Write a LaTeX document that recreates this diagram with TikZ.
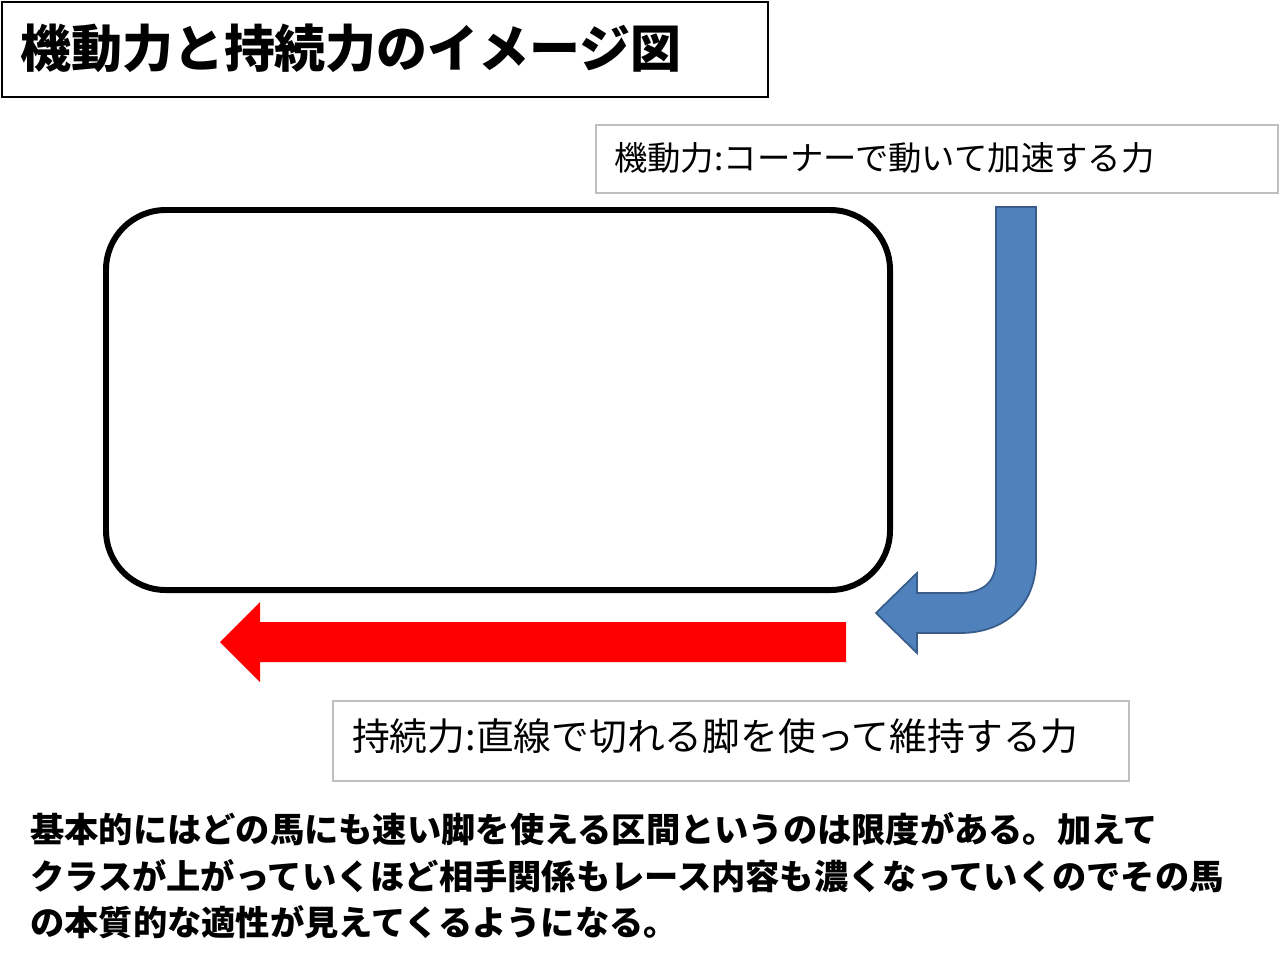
\documentclass[tikz,border=0pt]{standalone}
\usepackage{fontspec}
\newfontfamily\jp{Noto Sans CJK JP}
\definecolor{bluef}{HTML}{4F81BD}
\definecolor{blued}{HTML}{385D8A}
\definecolor{boxg}{HTML}{BFBFBF}
\begin{document}
\begin{tikzpicture}[x=0.02cm,y=-0.02cm,
  lbl/.style={draw=boxg,line width=1pt,anchor=north west,inner sep=0pt},
  every node/.style={font=\jp}]
\useasboundingbox (0,0) rectangle (1280,958);
\fill[white] (0,0) rectangle (1280,958);
% title
\draw[black,line width=1pt] (2,2) rectangle (768,97);
\node[anchor=west,font=\jp\bfseries\fontsize{29}{34}\selectfont] (title) at (14,48) {機動力と持続力のイメージ図};
% labels
\draw[boxg,line width=1pt] (596,125) rectangle (1278,193);
\node[anchor=west,font=\jp\fontsize{19}{23}\selectfont] (l1) at (608,158) {機動力:コーナーで動いて加速する力};
\draw[boxg,line width=1pt] (333,701) rectangle (1129,781);
\node[anchor=west,font=\jp\fontsize{21.5}{26}\selectfont] (l2) at (346,736) {持続力:直線で切れる脚を使って維持する力};
% track
\draw[black,line width=3.4pt,rounded corners=34pt] (106,210) rectangle (890,590);
% red arrow
\fill[red] (846,622) -- (260,622) -- (260,602) -- (220,642) -- (260,682) -- (260,662) -- (846,662) -- cycle;
% blue arrow
\filldraw[fill=bluef,draw=blued,line width=1pt] (996,207) -- (1036,207) -- (1036,560)
  .. controls (1036,605) and (1005,633) .. (960,633) -- (917,633) -- (917,653) -- (876,613)
  -- (917,573) -- (917,593) -- (960,593) .. controls (985,593) and (996,580) .. (996,560) -- cycle;
% bottom text
\node[anchor=north west,align=left,inner sep=0pt,font=\jp\bfseries\fontsize{19.5}{26.6}\selectfont] (txt) at (30,812)
{基本的にはどの馬にも速い脚を使える区間というのは限度がある。加えて\\
クラスが上がっていくほど相手関係もレース内容も濃くなっていくのでその馬\\
の本質的な適性が見えてくるようになる。};
\end{tikzpicture}
\end{document}
